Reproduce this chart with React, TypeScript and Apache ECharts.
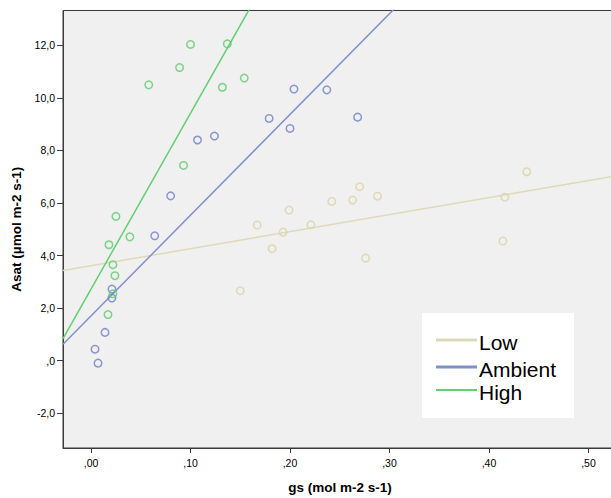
import React, { useEffect, useRef } from "react";
import * as echarts from "echarts";

const groupNames = ["Low", "Ambient", "High"];
const lineColors = ["#dedab9", "#8090cf", "#62cf70"];
const markerColors = ["#d8d3a6", "#6e80c8", "#5ccc6c"];

const lowGs = [0.150, 0.167, 0.182, 0.193, 0.199, 0.221, 0.242, 0.263, 0.270, 0.288, 0.276, 0.414, 0.416, 0.438];
const lowAsat = [2.66, 5.16, 4.26, 4.89, 5.73, 5.17, 6.06, 6.11, 6.62, 6.26, 3.90, 4.55, 6.22, 7.19];

const ambientGs = [0.004, 0.007, 0.014, 0.021, 0.021, 0.064, 0.080, 0.107, 0.124, 0.179, 0.200, 0.204, 0.237, 0.268];
const ambientAsat = [0.43, -0.10, 1.07, 2.72, 2.38, 4.75, 6.27, 8.40, 8.55, 9.22, 8.84, 10.34, 10.31, 9.27];

const highGs = [0.017, 0.022, 0.022, 0.024, 0.018, 0.025, 0.039, 0.058, 0.089, 0.093, 0.100, 0.132, 0.137, 0.154];
const highAsat = [1.75, 2.54, 3.65, 3.23, 4.41, 5.49, 4.71, 10.50, 11.16, 7.43, 12.04, 10.41, 12.06, 10.76];

// fit lines: Asat = intercept + slope * gs
const fitIntercepts = [3.61, 1.70, 2.72];
const fitSlopes = [6.49, 38.37, 67.0];

const xMin = -0.0282;
const xMax = 0.5237;
const yMin = -3.333;
const yMax = 13.333;

const xTickValues = [0, 0.1, 0.2, 0.3, 0.4, 0.5];
const xTickLabels = [",00", ",10", ",20", ",30", ",40", ",50"];
const yTickValues = [-2, 0, 2, 4, 6, 8, 10, 12];
const yTickLabels = ["-2,0", ",0", "2,0", "4,0", "6,0", "8,0", "10,0", "12,0"];

const xTitle = "gs (mol m-2 s-1)";
const yTitle = "Asat (µmol m-2 s-1)";

const FONT = "'Liberation Sans', Arial, sans-serif";

function labelFor(values: number[], labels: string[], v: number) {
  for (let i = 0; i < values.length; i++) {
    if (Math.abs(values[i] - v) < 1e-9) return labels[i];
  }
  return "";
}

export default function App() {
  const ref = useRef<HTMLDivElement>(null);
  useEffect(() => {
    if (!ref.current) return;
    const chart = echarts.init(ref.current, undefined, { renderer: "svg" });
    const groupsX = [lowGs, ambientGs, highGs];
    const groupsY = [lowAsat, ambientAsat, highAsat];
    const series: any[] = [];
    groupsX.forEach((gx, gi) => {
      series.push({
        type: "line",
        name: groupNames[gi] + " fit",
        data: [
          [xMin, fitIntercepts[gi] + fitSlopes[gi] * xMin],
          [xMax, fitIntercepts[gi] + fitSlopes[gi] * xMax],
        ],
        showSymbol: false,
        symbol: "none",
        clip: true,
        silent: true,
        lineStyle: { color: lineColors[gi], width: 1.5 },
        z: 2,
      });
    });
    groupsX.forEach((gx, gi) => {
      series.push({
        type: "scatter",
        name: groupNames[gi],
        data: gx.map((x, i) => [x, groupsY[gi][i]]),
        symbol: "circle",
        symbolSize: 7.5,
        itemStyle: {
          color: "transparent",
          borderColor: markerColors[gi],
          borderWidth: 1.5,
        },
        silent: true,
        z: 3,
      });
    });

    const legendX = 422;
    const legendY = 313;
    const rowYs = [340, 367, 390];
    const legendGraphics: any[] = [
      {
        type: "rect",
        shape: { x: legendX, y: legendY, width: 152, height: 105 },
        style: { fill: "#ffffff" },
        z: 10,
      },
    ];
    groupNames.forEach((name, i) => {
      legendGraphics.push({
        type: "line",
        shape: { x1: 436, y1: rowYs[i], x2: 477, y2: rowYs[i] },
        style: { stroke: lineColors[i], lineWidth: i === 2 ? 2 : 3 },
        z: 11,
      });
      legendGraphics.push({
        type: "text",
        x: 479,
        y: rowYs[i] + 2,
        style: {
          text: name,
          fill: "#000000",
          fontSize: 21,
          fontFamily: FONT,
          verticalAlign: "middle",
          align: "left",
        },
        z: 11,
      });
    });

    chart.setOption({
      animation: false,
      backgroundColor: "#ffffff",
      textStyle: { fontFamily: FONT },
      grid: {
        left: 63,
        top: 10.5,
        right: -1,
        bottom: 50,
        containLabel: false,
        outerBoundsMode: "none",
        show: true,
        backgroundColor: "#f0f0f0",
        borderColor: "#3a3a3a",
        borderWidth: 1,
      },
      xAxis: {
        type: "value",
        min: xMin,
        max: xMax,
        name: xTitle,
        nameLocation: "middle",
        nameGap: 32,
        nameTextStyle: { fontWeight: "bold", fontSize: 13.5, color: "#000", fontFamily: FONT, padding: [0, 0, 0, 5] },
        axisLine: { show: true, onZero: false, lineStyle: { color: "#3a3a3a", width: 1 } },
        axisTick: {
          show: true,
          inside: false,
          length: 5,
          customValues: xTickValues,
          lineStyle: { color: "#3a3a3a" },
        },
        axisLabel: {
          customValues: xTickValues,
          margin: 9,
          fontSize: 10.5,
          color: "#000",
          fontFamily: FONT,
          formatter: (v: number) => labelFor(xTickValues, xTickLabels, v),
        },
        splitLine: { show: false },
      },
      yAxis: {
        type: "value",
        min: yMin,
        max: yMax,
        name: yTitle,
        nameLocation: "middle",
        nameGap: 39,
        nameTextStyle: { fontWeight: "bold", fontSize: 13.5, color: "#000", fontFamily: FONT },
        axisLine: { show: true, onZero: false, lineStyle: { color: "#3a3a3a", width: 1 } },
        axisTick: {
          show: true,
          inside: false,
          length: 6,
          customValues: yTickValues,
          lineStyle: { color: "#3a3a3a" },
        },
        axisLabel: {
          customValues: yTickValues,
          margin: 8,
          fontSize: 10.5,
          color: "#000",
          fontFamily: FONT,
          formatter: (v: number) => labelFor(yTickValues, yTickLabels, v),
        },
        splitLine: { show: false },
      },
      series,
      graphic: legendGraphics,
    });
    return () => chart.dispose();
  }, []);
  return (
    <div
      ref={ref}
      style={{ position: "fixed", left: 0, top: 0, width: 611, height: 498 }}
    />
  );
}
